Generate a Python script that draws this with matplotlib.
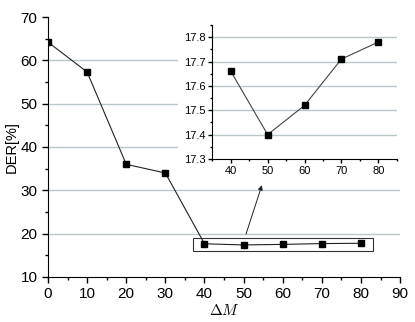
import matplotlib
matplotlib.use('Agg')
import matplotlib.pyplot as plt
from matplotlib.ticker import MultipleLocator
from matplotlib.patches import Rectangle

plt.rcParams['font.family'] = ['Liberation Sans', 'DejaVu Sans']
plt.rcParams['mathtext.fontset'] = 'cm'

delta_m = [0, 10, 20, 30, 40, 50, 60, 70, 80]
der = [64.2, 57.3, 36.0, 34.0, 17.66, 17.40, 17.52, 17.71, 17.78]

inset_x = [40, 50, 60, 70, 80]
inset_der = [17.66, 17.40, 17.52, 17.71, 17.78]

grid_color = '#b9c7cb'

fig = plt.figure(figsize=(4.15, 3.22), dpi=100)
ax = fig.add_axes([0.1157, 0.1398, 0.8483, 0.8074])
ax.plot(delta_m, der, color='#222222', linewidth=0.8, marker='s',
        markersize=5, markerfacecolor='black', markeredgecolor='black')
ax.set_xlim(0, 90)
ax.set_ylim(10, 70)
ax.xaxis.set_major_locator(MultipleLocator(10))
ax.xaxis.set_minor_locator(MultipleLocator(5))
ax.yaxis.set_major_locator(MultipleLocator(10))
ax.yaxis.set_minor_locator(MultipleLocator(5))
for yv in [20, 30, 40, 50, 60]:
    ax.axhline(yv, color=grid_color, linewidth=1, zorder=0)
ax.spines['top'].set_visible(False)
ax.spines['right'].set_visible(False)
ax.tick_params(which='major', direction='out', length=4, width=1, labelsize=11)
ax.tick_params(which='minor', direction='out', length=2, width=1)
ax.set_ylabel('DER[%]', fontsize=10.5, labelpad=1)
ax.set_xlabel(r'$\Delta M$', fontsize=11, labelpad=1)

# white area behind the inset, hides the main grid
ax.add_patch(Rectangle((0.429, 0.455), 0.535, 0.545, transform=fig.transFigure,
                       facecolor='white', edgecolor='none', zorder=1.5, clip_on=False))

# box around the zoomed points
ax.add_patch(Rectangle((37.1, 16.0), 46.0, 3.0, fill=False,
                       edgecolor='#333333', linewidth=0.8))
ax.annotate('', xy=(54.9, 31.8), xytext=(50.4, 19.3),
            arrowprops=dict(arrowstyle='-|>', color='#222222', linewidth=0.7,
                            mutation_scale=7))

# inset
axi = fig.add_axes([0.5116, 0.5062, 0.4444, 0.4162])
axi.plot(inset_x, inset_der, color='#444444', linewidth=0.8, marker='s',
         markersize=5, markerfacecolor='black', markeredgecolor='black')
axi.set_xlim(35, 85)
axi.set_ylim(17.3, 17.85)
axi.xaxis.set_major_locator(MultipleLocator(10))
axi.xaxis.set_minor_locator(MultipleLocator(5))
axi.yaxis.set_major_locator(MultipleLocator(0.1))
axi.yaxis.set_minor_locator(MultipleLocator(0.05))
for yv in [17.4, 17.5, 17.6, 17.7, 17.8]:
    axi.axhline(yv, color=grid_color, linewidth=1, zorder=0)
axi.spines['top'].set_visible(False)
axi.spines['right'].set_visible(False)
axi.tick_params(which='major', direction='out', length=3, width=1, labelsize=8, pad=2)
axi.tick_params(which='minor', direction='out', length=1.5, width=1)
axi.yaxis.set_major_formatter(plt.FormatStrFormatter('%.1f'))

fig.savefig('out.png', dpi=100)
